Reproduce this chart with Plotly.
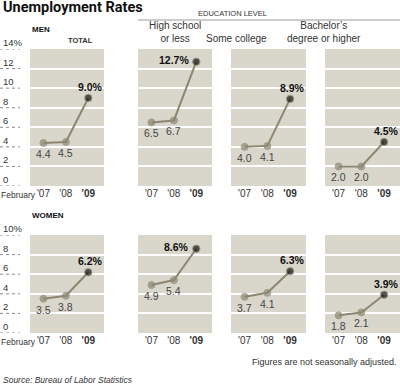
import plotly.graph_objects as go

# ---- data ----
years = [0, 1, 2]
year_ticks = ["'07", "'08", "<b>'09</b>"]
group_titles = ["TOTAL", "High school<br>or less", "Some college", "Bachelor’s<br>degree or higher"]
men_total = [4.4, 4.5, 9.0]
men_highschool = [6.5, 6.7, 12.7]
men_somecollege = [4.0, 4.1, 8.9]
men_bachelor = [2.0, 2.0, 4.5]
women_total = [3.5, 3.8, 6.2]
women_highschool = [4.9, 5.4, 8.6]
women_somecollege = [3.7, 4.1, 6.3]
women_bachelor = [1.8, 2.1, 3.9]
men_yticks = [0, 2, 4, 6, 8, 10, 12, 14]
men_ytick_text = ["0", "2", "4", "6", "8", "10", "12", "14%"]
women_yticks = [0, 2, 4, 6, 8, 10]
women_ytick_text = ["0", "2", "4", "6", "8", "10%"]

rows = [
    dict(name="MEN", series=[men_total, men_highschool, men_somecollege, men_bachelor],
         ymax=14, yticks=men_yticks, ytext=men_ytick_text, top=49, bottom=186),
    dict(name="WOMEN", series=[women_total, women_highschool, women_somecollege, women_bachelor],
         ymax=10, yticks=women_yticks, ytext=women_ytick_text, top=235, bottom=333),
]

W, H = 400, 386
def fx(p):
    return p / W
def fy(p):
    return 1 - p / H

col_px = [(30, 104), (138, 212), (231, 306), (325, 400)]
BG = "#d9d6cc"
LINE = "#8d8772"
FONT = "Liberation Sans, Arial, sans-serif"

fig = go.Figure()
layout = dict(width=W, height=H, margin=dict(l=0, r=0, t=0, b=0),
              paper_bgcolor="white", plot_bgcolor=BG, showlegend=False,
              font=dict(family=FONT, size=10, color="#333"))
annotations = []
shapes = []

for r, row in enumerate(rows):
    for c, vals in enumerate(row["series"]):
        n = r * 4 + c + 1
        xs = "" if n == 1 else str(n)
        x0, x1 = col_px[c]
        layout["xaxis" + xs] = dict(domain=[fx(x0), fx(x1)], range=[-0.6, 2.7], anchor="y" + xs,
                                    tickvals=years, ticktext=year_ticks, showgrid=False,
                                    zeroline=False, showline=False, ticks="",
                                    tickfont=dict(size=10, color="#333"), fixedrange=True)
        layout["yaxis" + xs] = dict(domain=[fy(row["bottom"]), fy(row["top"])], range=[0, row["ymax"]],
                                    anchor="x" + xs, tickvals=row["yticks"][1:-1], showticklabels=False,
                                    showgrid=True, gridcolor="white", gridwidth=1.5, zeroline=False,
                                    showline=False, ticks="", fixedrange=True)
        fig.add_trace(go.Scatter(x=years, y=vals, mode="lines+markers", xaxis="x" + xs, yaxis="y" + xs,
                                 line=dict(color=LINE, width=2),
                                 marker=dict(size=[7, 7, 7.5], color=[LINE, LINE, "#111"]),
                                 hoverinfo="skip"))
        # value labels
        for i in range(2):
            annotations.append(dict(x=years[i], y=vals[i], xref="x" + xs, yref="y" + xs,
                                    text=f"{vals[i]:.1f}", showarrow=False, yshift=-11,
                                    font=dict(size=10.5, color="#444")))
        if c == 1:
            annotations.append(dict(x=years[2], y=vals[2], xref="x" + xs, yref="y" + xs,
                                    text=f"<b>{vals[2]:.1f}%</b>", showarrow=False, xanchor="right",
                                    xshift=-5, yshift=2, font=dict(size=10.5, color="#111")))
        else:
            annotations.append(dict(x=years[2], y=vals[2], xref="x" + xs, yref="y" + xs,
                                    text=f"<b>{vals[2]:.1f}%</b>", showarrow=False, xshift=2,
                                    yshift=11, font=dict(size=10.5, color="#111")))
    # left axis labels with dotted rules
    yr = "y" if r == 0 else "y5"
    for v, t in zip(row["yticks"], row["ytext"]):
        annotations.append(dict(x=fx(1), y=v, xref="paper", yref=yr, text=t, showarrow=False,
                                xanchor="left", yanchor="bottom", yshift=-1,
                                font=dict(size=9.5, color="#333")))
        shapes.append(dict(type="line", xref="paper", yref=yr, x0=0, x1=fx(20), y0=v, y1=v,
                           line=dict(color="#888", width=1, dash="dot")))
    # February label
    annotations.append(dict(x=0, y=fy(row["bottom"] + 9), xref="paper", yref="paper",
                            text="February", showarrow=False, xanchor="left", yanchor="middle",
                            xshift=-1, font=dict(size=8.5, color="#333")))
    annotations.append(dict(x=fx(30), y=fy(row["top"] - 20), xref="paper", yref="paper",
                            text="<b>" + row["name"] + "</b>", showarrow=False, xanchor="left",
                            yanchor="middle", font=dict(size=8, color="#111")))

# column headers
annotations.append(dict(x=fx(66), y=fy(40), xref="paper", yref="paper", text="<b>TOTAL</b>",
                        showarrow=False, yanchor="middle", font=dict(size=7.5, color="#333")))
for c in range(1, 4):
    x0, x1 = col_px[c]
    annotations.append(dict(x=fx((x0 + x1) / 2), y=fy(46), xref="paper", yref="paper",
                            text=group_titles[c], showarrow=False, yanchor="bottom",
                            font=dict(size=10, color="#333")))
annotations.append(dict(x=fx(269), y=fy(13), xref="paper", yref="paper", text="EDUCATION LEVEL",
                        showarrow=False, yanchor="middle", font=dict(size=7.5, color="#333")))
shapes.append(dict(type="line", xref="paper", yref="paper", x0=fx(138), x1=1, y0=fy(20), y1=fy(20),
                   line=dict(color="#999", width=1)))

# title and notes
annotations.append(dict(x=fx(1), y=fy(8), xref="paper", yref="paper", text="<b>Unemployment Rates</b>",
                        showarrow=False, xanchor="left", yanchor="middle",
                        font=dict(family="Roboto, Liberation Sans, sans-serif", size=14.5, color="#111")))
annotations.append(dict(x=fx(399), y=fy(362), xref="paper", yref="paper",
                        text="Figures are not seasonally adjusted.", showarrow=False, xanchor="right",
                        yanchor="middle", font=dict(size=9, color="#333")))
annotations.append(dict(x=fx(1), y=fy(380), xref="paper", yref="paper",
                        text="<i>Source: Bureau of Labor Statistics</i>", showarrow=False,
                        xanchor="left", yanchor="middle", font=dict(size=8.5, color="#333")))

layout["annotations"] = annotations
layout["shapes"] = shapes
fig.update_layout(**layout)
fig.write_html("out.html", config={"displayModeBar": False},
               post_script="document.body.style.margin='0';document.body.style.overflow='hidden';")
